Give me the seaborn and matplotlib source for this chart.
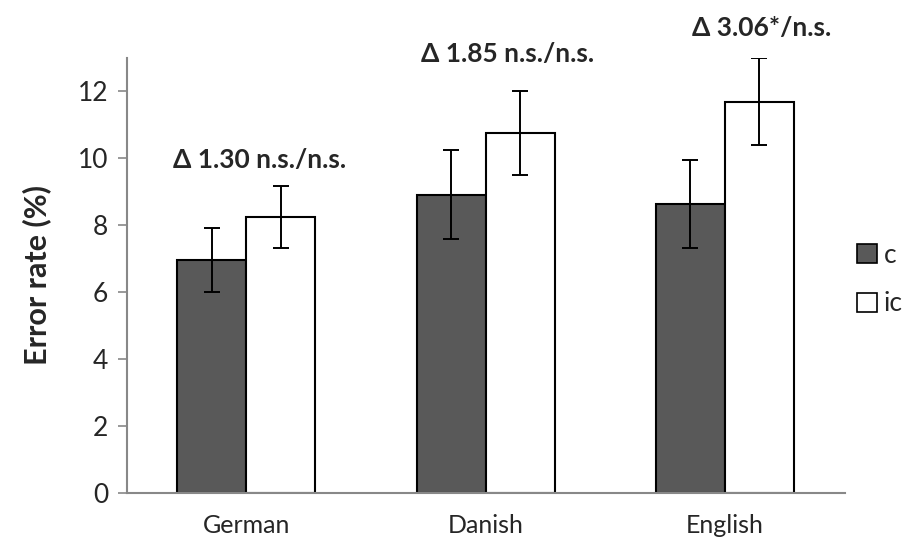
import matplotlib
matplotlib.use("Agg")
import matplotlib.pyplot as plt
import seaborn as sns
import pandas as pd
import numpy as np

languages = ["German", "Danish", "English"]
conditions = ["c", "ic"]
c_values = [6.95, 8.90, 8.62]
ic_values = [8.24, 10.75, 11.68]
c_errors = [0.95, 1.33, 1.32]
ic_errors = [0.92, 1.25, 1.30]
annotations = ["Δ 1.30 n.s./n.s.", "Δ 1.85 n.s./n.s.", "Δ 3.06*/n.s."]
annotation_y = [9.95, 13.1, 13.9]
annotation_dx = [0.055, 0.09, 0.155]
yticks = [0, 2, 4, 6, 8, 10, 12]

sns.set_theme(style="white")
plt.rcParams["font.family"] = ["Lato", "DejaVu Sans"]

df = pd.DataFrame({
    "language": languages * 2,
    "condition": ["c"] * 3 + ["ic"] * 3,
    "value": c_values + ic_values,
    "err": c_errors + ic_errors,
})

fig = plt.figure(figsize=(9.12, 5.44), dpi=100)
ax = fig.add_axes([0.139, 0.094, 0.787, 0.80])

sns.barplot(data=df, x="language", y="value", hue="condition",
            order=languages, hue_order=conditions,
            palette={"c": "#595959", "ic": "#ffffff"},
            edgecolor="black", linewidth=1.5, width=0.577,
            errorbar=None, ax=ax, saturation=1)

# error bars at bar centers
patches = [p for p in ax.patches if p.get_height() > 0]
for p in patches:
    xc = p.get_x() + p.get_width() / 2
    h = p.get_height()
    match = df[np.isclose(df["value"], h)]
    e = match["err"].iloc[0]
    ax.errorbar(xc, h, yerr=e, fmt="none", ecolor="black",
                elinewidth=1.4, capsize=6, capthick=1.4)

for i, (txt, yv, dx) in enumerate(zip(annotations, annotation_y, annotation_dx)):
    ax.text(i + dx, yv, txt, ha="center", va="center", fontsize=19,
            fontweight="bold", clip_on=False)

ax.set_ylim(0, 13)
ax.set_xlim(-0.5, 2.5)
ax.set_yticks(yticks)
ax.set_ylabel("Error rate (%)", fontsize=22, fontweight="bold", labelpad=19)
ax.set_xlabel("")
ax.tick_params(axis="y", labelsize=19, length=6.5, width=1.2, color="#888888",
               direction="out", left=True, pad=7)
ax.tick_params(axis="x", labelsize=18, length=0, pad=15)
for s in ["top", "right"]:
    ax.spines[s].set_visible(False)
for s in ["left", "bottom"]:
    ax.spines[s].set_color("#888888")
    ax.spines[s].set_linewidth(1.5)

leg = ax.legend(title=None, frameon=False, loc="center left",
                bbox_to_anchor=(0.985, 0.49), fontsize=19,
                handlelength=0.75, handleheight=0.75, handletextpad=0.25,
                labelspacing=0.9)
for h in leg.legend_handles:
    h.set_linewidth(1.2)

fig.savefig("out.png", dpi=100)
